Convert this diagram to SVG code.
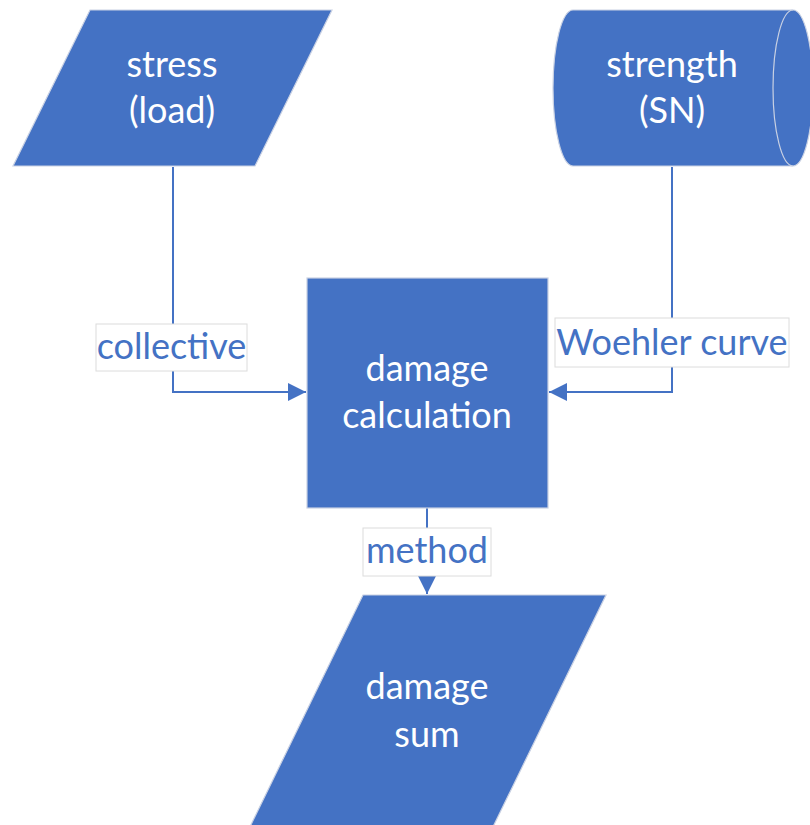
<svg xmlns="http://www.w3.org/2000/svg" width="810" height="825" viewBox="0 0 810 825">
<style>
.shape{fill:#4472C4;stroke:#c9d1e3;stroke-width:1.2}
.t{font-family:Lato,"Open Sans",sans-serif;font-size:36px;fill:#ffffff;text-anchor:middle}
.lbl{font-family:Lato,"Open Sans",sans-serif;font-size:36px;fill:#4472C4;text-anchor:middle}
.lb{fill:#ffffff;stroke:#dcdcdc;stroke-width:1}
.c{fill:none;stroke:#4472C4;stroke-width:2}
</style>
<defs>
<marker id="ah" markerWidth="18" markerHeight="18" viewBox="0 0 18 18" refX="18" refY="9" orient="auto" markerUnits="userSpaceOnUse">
<path d="M0,0 L18,9 L0,18 Z" fill="#4472C4"/>
</marker>
</defs>
<rect width="810" height="825" fill="#ffffff"/>
<g id="connectors">
<path class="c" d="M173,167 V392 H306" marker-end="url(#ah)"/>
<path class="c" d="M672,167 V392 H549" marker-end="url(#ah)"/>
<path class="c" d="M427,508 V594" marker-end="url(#ah)"/>
<rect class="lb" x="96" y="324" width="151" height="47"/>
<text class="lbl" x="171.5" y="359">collective</text>
<rect class="lb" x="555" y="318" width="234" height="49"/>
<text class="lbl" x="672" y="355">Woehler curve</text>
<rect class="lb" x="363" y="528" width="128" height="48"/>
<text class="lbl" x="427" y="563">method</text>
</g>
<g id="stress">
<polygon class="shape" points="90,10 332,10 255,166 13,166"/>
<text class="t" x="172" y="77">stress</text>
<text class="t" x="172" y="123">(load)</text>
</g>
<g id="strength">
<path class="shape" d="M573,10 H793 A20,78 0 0 1 793,166 H573 A20,78 0 0 1 573,10 Z"/>
<path d="M793,10 A20,78 0 0 0 793,166" fill="none" stroke="#c9d1e3" stroke-width="1.2"/>
<text class="t" x="672" y="77">strength</text>
<text class="t" x="672" y="123">(SN)</text>
</g>
<g id="calc">
<rect class="shape" x="307" y="278" width="241" height="230"/>
<text class="t" x="427" y="381">damage</text>
<text class="t" x="427" y="428">calculation</text>
</g>
<g id="sum">
<polygon class="shape" points="363,595 606,595 489,835 246,835"/>
<text class="t" x="427" y="699">damage</text>
<text class="t" x="427" y="747">sum</text>
</g>
</svg>
